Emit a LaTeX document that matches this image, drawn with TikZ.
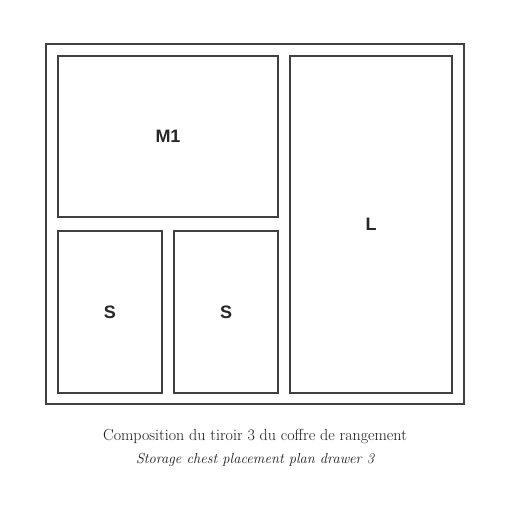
\documentclass[tikz,border=0pt]{standalone}
\usepackage{fontspec}
\usepackage{tikz}
\usetikzlibrary{positioning}
\newfontfamily\labelfont{Liberation Sans}

\begin{document}
\begin{tikzpicture}
	[x=1pt, y=-1pt,
	plan/.style={draw=black!75, line width=2pt},
	compartment/.style={plan, font=\labelfont\bfseries\fontsize{18}{18}\selectfont, text=black!85},
	caption/.style={text=black!90, inner sep=0pt, font=\fontsize{16}{16}\selectfont}]
	\useasboundingbox (0,0) rectangle (510,511);
	% chest outline
	\draw[plan] (46,44) rectangle (464,404);
	% compartments
	\node[compartment, minimum width=220pt, minimum height=161pt] (M1) at (168,136.5) {M1};
	\node[compartment, minimum width=162pt, minimum height=337pt] (L) at (371,224.5) {L};
	\node[compartment, minimum width=104pt, minimum height=162pt] (S1) at (110,312) {S};
	\node[compartment, minimum width=104pt, minimum height=162pt] (S2) at (226,312) {S};
	% captions
	\node[caption] (title) at (255,437) {Composition du tiroir 3 du coffre de rangement};
	\node[caption, below=9pt of title, font=\fontsize{14.5}{14.5}\selectfont\itshape] (subtitle) {Storage chest placement plan drawer 3};
\end{tikzpicture}
\end{document}
